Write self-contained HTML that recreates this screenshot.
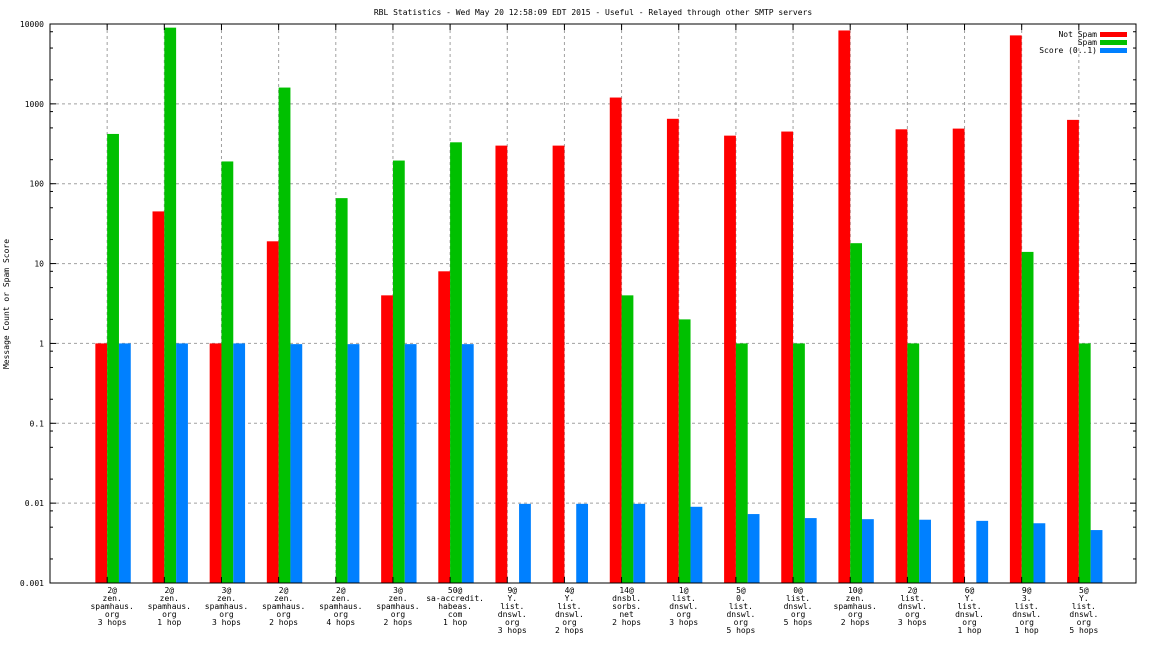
<!DOCTYPE html>
<html><head><meta charset="utf-8"><style>
body{margin:0;background:#fff;}
svg text{font-family:"DejaVu Sans Mono","Liberation Mono",monospace;font-size:8px;fill:#000;}
</style></head><body>
<svg id="chart" width="1152" height="648" xmlns="http://www.w3.org/2000/svg">
<text x="593" y="15" text-anchor="middle">RBL Statistics - Wed May 20 12:58:09 EDT 2015 - Useful - Relayed through other SMTP servers</text>
<text transform="translate(9,304) rotate(-90)" text-anchor="middle">Message Count or Spam Score</text>
<g id="grid"></g><g id="bars"></g><g id="axes"></g><g id="labels"></g>
<g>
<text x="1097" y="37" text-anchor="end">Not Spam</text><rect x="1100" y="32" width="27" height="5" fill="#ff0000"/>
<text x="1097" y="45" text-anchor="end">Spam</text><rect x="1100" y="40" width="27" height="5" fill="#00c000"/>
<text x="1097" y="53" text-anchor="end">Score (0..1)</text><rect x="1100" y="48" width="27" height="5" fill="#0080ff"/>
</g>
</svg>
<script>
const categories=[["2@","zen.","spamhaus.","org","3 hops"],["2@","zen.","spamhaus.","org","1 hop"],["3@","zen.","spamhaus.","org","3 hops"],["2@","zen.","spamhaus.","org","2 hops"],["2@","zen.","spamhaus.","org","4 hops"],["3@","zen.","spamhaus.","org","2 hops"],["50@","sa-accredit.","habeas.","com","1 hop"],["9@","Y.","list.","dnswl.","org","3 hops"],["4@","Y.","list.","dnswl.","org","2 hops"],["14@","dnsbl.","sorbs.","net","2 hops"],["1@","list.","dnswl.","org","3 hops"],["5@","0.","list.","dnswl.","org","5 hops"],["0@","list.","dnswl.","org","5 hops"],["10@","zen.","spamhaus.","org","2 hops"],["2@","list.","dnswl.","org","3 hops"],["6@","Y.","list.","dnswl.","org","1 hop"],["9@","3.","list.","dnswl.","org","1 hop"],["5@","Y.","list.","dnswl.","org","5 hops"]];
const notSpam=[1,45,1,19,0,4,8,300,300,1200,650,400,450,8300,480,490,7200,630];
const spam=[420,9000,190,1600,66,195,330,0,0,4,2,1,1,18,1,0,14,1];
const score=[1,1,1,0.98,0.98,0.98,0.98,0.0098,0.0098,0.0098,0.009,0.0073,0.0065,0.0063,0.0062,0.006,0.0056,0.0046];
const yTicks=[0.001,0.01,0.1,1,10,100,1000,10000];
const yTickLabels=["0.001","0.01","0.1","1","10","100","1000","10000"];
const NS="http://www.w3.org/2000/svg";
const L=50,R=1136,T=24,B=583,slot=(R-L)/19;
const y=v=>B-(Math.log10(v)+3)/7*(B-T);
const xc=i=>L+slot*(i+1);
function mk(tag,attrs,parent){const e=document.createElementNS(NS,tag);for(const k in attrs)e.setAttribute(k,attrs[k]);document.getElementById(parent).appendChild(e);return e;}
// grid
yTicks.forEach((v,i)=>{
 if(i>0&&i<yTicks.length-1){const g=mk('line',{x1:L,x2:R,y1:y(v),y2:y(v),stroke:'#a0a0a0','stroke-dasharray':'3,3'},'grid');
 
 }
 const t=mk('text',{x:L-6,y:y(v)+3,'text-anchor':'end'},'labels');t.textContent=yTickLabels[i];
 
 
 [[L,L+6],[R,R-6]].forEach(p=>mk('line',{x1:p[0],x2:p[1],y1:y(v),y2:y(v),stroke:'#000'},'axes'));
 if(i<yTicks.length-1)[2,5,8].forEach(m=>{const yy=y(v*m);[[L,L+3],[R,R-3]].forEach(p=>mk('line',{x1:p[0],x2:p[1],y1:yy,y2:yy,stroke:'#000'},'axes'));});
});
categories.forEach((c,i)=>{
 const x=xc(i);
 const g=mk('line',{x1:x,x2:x,y1:T,y2:B,stroke:'#a0a0a0','stroke-dasharray':'3,3'},'grid');
 
 
 mk('line',{x1:x,x2:x,y1:T,y2:T+6,stroke:'#000'},'axes');
 mk('line',{x1:x,x2:x,y1:B,y2:B-6,stroke:'#000'},'axes');
 const w=11.8;
 [[notSpam,'#ff0000',-w,'bar-not-spam'],[spam,'#00c000',0,'bar-spam'],[score,'#0080ff',w,'bar-score']].forEach(s=>{
  const v=s[0][i]; if(!(v>0))return;
  const r=mk('rect',{x:x+s[2],y:y(v),width:w,height:B-y(v),fill:s[1]},'bars');
  
  
 });
 c.forEach((ln,j)=>{const t=mk('text',{x:x+5,y:593+j*8,'text-anchor':'middle'},'labels');t.textContent=ln;
  
  });
});
const f=mk('rect',{x:L,y:T,width:R-L,height:B-T,fill:'none',stroke:'#000'},'axes');


</script>
</body></html>
